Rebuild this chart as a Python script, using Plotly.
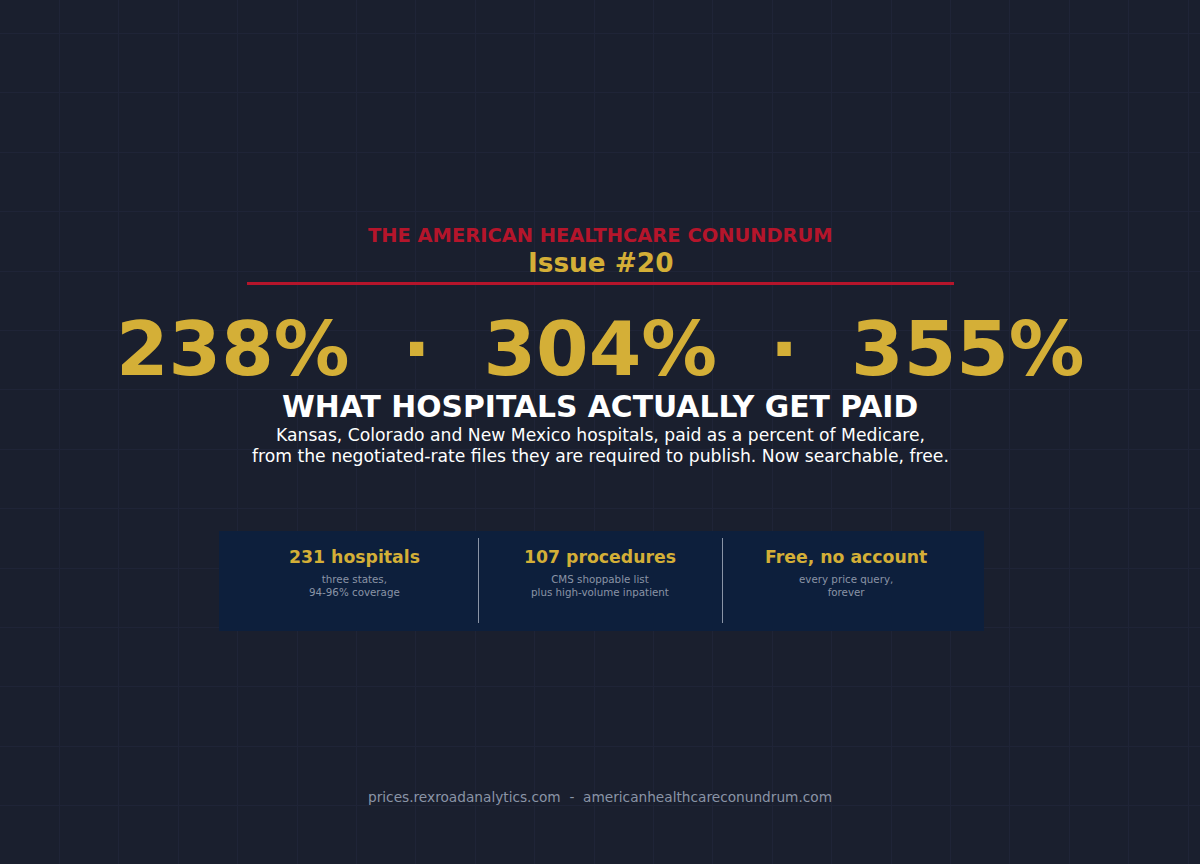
import plotly.graph_objects as go

BG = "#1a1f2e"
GRID = "#1f2437"
GOLD = "#d4af37"
RED = "#b5152b"
PANEL = "#0d1f3c"
MUTED = "#8a94a6"
FONT = "DejaVu Sans"

pct_values = ["238%", "304%", "355%"]
stat_heads = ["231 hospitals", "107 procedures", "Free, no account"]
stat_subs = ["three states,<br>94-96% coverage",
             "CMS shoppable list<br>plus high-volume inpatient",
             "every price query,<br>forever"]
stat_x = [354, 600, 846]
divider_x = [478.5, 722.5]

fig = go.Figure()


def add_text(x, y, text, size, color, bold=False):
    fig.add_annotation(x=x, y=y, text="<b>{}</b>".format(text) if bold else text,
                       showarrow=False, xanchor="center", yanchor="middle",
                       font=dict(family=FONT, size=size, color=color))


# invisible trace so the axes and grid get drawn
fig.add_trace(go.Scatter(x=[0, 1200], y=[0, 864], mode="markers",
                         marker=dict(opacity=0), hoverinfo="skip", showlegend=False))

add_text(600, 235, "THE AMERICAN HEALTHCARE CONUNDRUM", 19.45, RED, True)
add_text(600, 262.5, "Issue #20", 26.3, GOLD, True)
fig.add_shape(type="line", x0=247, x1=954, y0=283.5, y1=283.5, line=dict(color=RED, width=3))

add_text(600, 349, "  ·  ".join(pct_values), 75.6, GOLD, True)
add_text(600, 406, "WHAT HOSPITALS ACTUALLY GET PAID", 29.8, "#ffffff", True)
add_text(600, 435, "Kansas, Colorado and New Mexico hospitals, paid as a percent of Medicare,", 17.2, "#ffffff")
add_text(600, 456, "from the negotiated-rate files they are required to publish. Now searchable, free.", 17.2, "#ffffff")

# panel sits above the grid, otherwise the grid shows through it
fig.add_shape(type="rect", x0=219, x1=984, y0=531, y1=631, fillcolor=PANEL, line=dict(width=0), layer="above")
for x in divider_x:
    fig.add_shape(type="line", x0=x, x1=x, y0=538, y1=623, line=dict(color=MUTED, width=1))
for x, head, sub in zip(stat_x, stat_heads, stat_subs):
    add_text(x, 556.5, head, 17.3, GOLD, True)
    add_text(x, 585.5, sub, 10.3, MUTED)

add_text(600, 797, "prices.rexroadanalytics.com  -  americanhealthcareconundrum.com", 13.7, MUTED)

fig.update_xaxes(range=[0, 1200], visible=True, showticklabels=False, zeroline=False,
                 showgrid=True, gridcolor=GRID, gridwidth=1, tick0=0, dtick=59.4, ticks="")
fig.update_yaxes(range=[864, 0], visible=True, showticklabels=False, zeroline=False,
                 showgrid=True, gridcolor=GRID, gridwidth=1, tick0=33.4, dtick=59.4, ticks="")
fig.update_layout(width=1200, height=864, margin=dict(l=0, r=0, t=0, b=0),
                  paper_bgcolor=BG, plot_bgcolor=BG, font=dict(family=FONT))

fig.write_html("out.html", config=dict(displayModeBar=False),
               post_script="document.body.style.margin='0';document.body.style.background='" + BG + "';")
